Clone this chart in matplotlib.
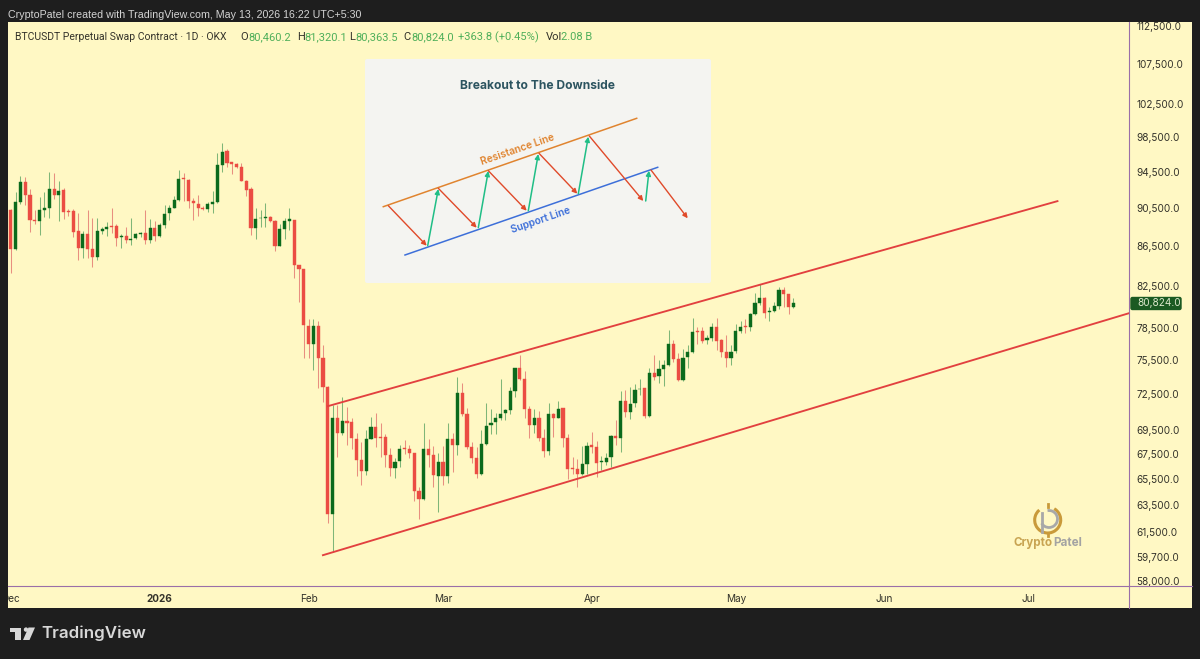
import matplotlib
matplotlib.use("Agg")
import matplotlib.pyplot as plt
import matplotlib.dates as mdates
from matplotlib.patches import Rectangle, FancyBboxPatch, Polygon, Circle, Arc
from matplotlib.ticker import FixedLocator, FixedFormatter, NullLocator
import numpy as np
import pandas as pd

opens = [90330,86220,91160,93360,91990,89290,89187,90291,90580,92582,91957,92508,90255,90183,88056,86357,87813,86187,85369,88090,
 88336,88655,88584,87432,87570,87154,87327,87813,87883,87154,88407,87570,88761,89966,90580,91447,93803,93653,91339,91014,
 90580,90436,90977,91195,95345,96877,95610,95457,95119,93541,92582,88372,89435,89506,89541,89116,86563,88301,89187,89258,
 84590,84190,78686,76953,78686,75739,73106,62853,70454,69258,70257,70117,68765,67034,66189,68765,69753,68903,68875,67438,
 66427,66955,68003,67896,67573,64601,63980,67949,67438,65793,66902,65741,68765,68272,72583,70818,68084,67195,65899,68326,
 69891,70174,70454,70930,71126,72757,74814,73836,71211,69864,70454,68848,67788,70818,70454,71296,68787,66369,66289,65923,
 66715,68217,68082,66900,66900,67246,69006,68787,71888,71013,71719,72928,73015,70646,74393,74098,74746,75106,76982,75616,
 73747,75766,76248,78153,78215,77380,77533,78590,77319,76248,75736,76310,78153,78652,78527,79786,80805,81321,80010,80106,
 80582,82135,81706,80460.2]
highs = [90400,92250,94104,93990,92582,90328,91700,92250,94517,94442,93541,92692,90472,90400,89966,88056,90328,89470,89470,88478,
 89010,90508,88832,87779,88549,89470,87917,87987,90328,89329,89187,88903,90905,90905,91846,94743,94442,93700,91592,91920,
 90760,91230,92434,96724,97804,97100,95687,95572,95495,93580,92803,90508,90328,91122,89683,89258,88832,89435,90544,89300,
 84620,84220,79317,79317,79159,76892,73224,71583,71583,72240,71383,70454,69203,68517,69478,70538,70930,70089,69148,67976,
 67169,68245,68655,68245,67600,64938,70089,68710,68164,67573,68164,70033,69203,73982,73458,71354,68517,68110,69478,71726,
 71268,70874,73807,71211,73165,74850,75951,74575,71497,71268,71098,69533,71726,70874,71955,71320,69144,67300,67087,68163,
 68516,69283,68597,67353,67620,69061,70307,72813,72871,73159,73394,73807,73040,74837,75976,75527,75527,78278,77349,76126,
 76493,76890,79437,78590,78527,77811,78902,79437,77441,77811,76890,78839,79152,79277,79915,81778,82692,81450,80423,80967,
 82362,82362,81720,81320.1]
lows = [83820,86140,90977,90870,87952,88797,87675,89541,89435,91519,89187,89329,89683,87501,85097,85267,85267,84423,85097,87779,
 87570,87848,86494,86357,86879,86598,87224,87501,86737,86806,87085,87432,88372,89258,90508,91339,91339,90580,89258,89683,
 90328,90147,90039,91122,94555,95119,94254,95006,93500,91846,87675,87224,88478,88549,89081,86051,86528,87258,88195,83320,
 80907,75678,75678,74635,73020,71869,62208,60092,67303,69066,68245,67896,65767,65067,65846,68710,68057,67249,66506,65767,
 65636,66453,67519,67169,63862,62455,63913,66506,64886,62978,65041,65197,66110,67438,70650,67896,66770,65585,65846,68245,
 69148,69148,70314,70314,70790,72240,73749,70454,68793,69203,68572,67303,67438,68930,70454,68109,65532,65923,64932,65845,
 65923,67566,65662,66236,66635,66502,68245,67701,70589,70392,71437,72439,70448,70589,73747,73452,73247,74988,75376,73659,
 73659,74777,76126,76982,77104,76982,77288,76431,75826,74868,75076,76187,78028,78028,78215,79691,80646,79371,79152,80010,
 80233,80423,79786,80363.5]
closes = [86220,91230,93357,91957,89258,89152,90291,90544,92582,91920,92434,90147,90147,88022,86357,87813,86187,85369,88056,88301,
 88549,88549,87397,87536,87120,87258,87813,87883,87154,88407,87570,88761,89931,90580,91447,93766,93690,91303,91050,90544,
 90400,90941,91195,95345,96838,95495,95457,95081,93541,92508,88372,89329,89506,89576,89152,86563,88266,89152,89329,84590,
 84190,78717,76953,78654,75739,73106,62853,70454,69258,70257,70089,68793,67034,66189,68765,69753,68793,68848,67438,66427,
 66902,67949,67949,67573,64601,63980,67922,67411,65820,66902,65741,68765,68245,72583,70790,68057,67195,65899,68326,69836,
 70089,70454,70846,71126,72757,74814,73836,71211,69864,70454,68793,67788,70818,70482,71268,68787,66316,66289,65923,66715,
 68190,68109,66821,66980,67220,69006,68787,71888,71013,71691,72871,72986,70646,74393,74040,74688,75046,76982,75586,73747,
 75736,76248,78091,78060,77288,77533,78559,77288,76248,75676,76279,78153,78590,78527,79754,80805,81289,79915,80106,80582,
 82103,81706,80423,80824.0]

first_date = "2025-12-01"
price_ticks = [112500,107500,102500,98500,94500,90500,86500,82500,78500,75500,72500,69500,67500,65500,63500,61500,59700,58000]
month_ticks = ["2025-12-01","2026-01-01","2026-02-01","2026-03-01","2026-04-01","2026-05-01","2026-06-01","2026-07-01"]
month_labels = ["Dec","2026","Feb","Mar","Apr","May","Jun","Jul"]
upper_channel_dates = ["2026-02-05","2026-07-07"]
upper_channel_prices = [71480,91290]
lower_channel_dates = ["2026-02-04","2026-07-22"]
lower_channel_prices = [59840,79880]
last_price = 80824.0

BG = "#1E1E1E"; CREAM = "#FFF8C4"; PURPLE = "#9A6FA8"
UP = "#0B6A1C"; DOWN = "#EB4D43"; TXT = "#33322A"
plt.rcParams["font.family"] = ["Inter", "DejaVu Sans"]
W, H = 1200, 659
fig = plt.figure(figsize=(12, 6.59), dpi=100, facecolor=BG)

def axrect(x0, y0, x1, y1):
    return [x0/W, 1-y1/H, (x1-x0)/W, (y1-y0)/H]

panel = fig.add_axes(axrect(8, 22, 1192, 608), facecolor=CREAM, zorder=0)
panel.set_xticks([]); panel.set_yticks([])
for s in panel.spines.values():
    s.set_visible(False)

ax = fig.add_axes(axrect(8, 22, 1129, 586), zorder=1)
ax.patch.set_alpha(0)
ax.set_yscale("log")
dates = mdates.date2num(pd.date_range(first_date, periods=len(opens)).to_pydatetime())
o, h, l, c = map(np.array, (opens, highs, lows, closes))
up = c >= o
wick_cols = np.where(up, "#7FB678", "#E88F80")
ax.vlines(dates, l, h, colors=wick_cols, lw=0.75, zorder=2)
bot = np.minimum(o, c); top = np.maximum(o, c)
ax.bar(dates, top-bot, bottom=bot, width=0.66, color=np.where(up, UP, DOWN),
       edgecolor=np.where(up, UP, DOWN), linewidth=0.3, zorder=3)

def d(v):
    return mdates.date2num(pd.to_datetime(v).to_pydatetime())
ax.plot([d(v) for v in upper_channel_dates], upper_channel_prices, color="#E2403F", lw=1.35, zorder=4)
ax.plot([d(v) for v in lower_channel_dates], lower_channel_prices, color="#E2403F", lw=1.35, zorder=4)

ax.set_xlim(d(first_date)-0.6, d(first_date)+232.9)
ax.set_ylim(57680, 113040)
ax.yaxis.tick_right()
ax.yaxis.set_major_locator(FixedLocator(price_ticks))
ax.yaxis.set_major_formatter(FixedFormatter([f"{v:,.1f}" for v in price_ticks]))
ax.yaxis.set_minor_locator(NullLocator())
ax.set_xticks([d(v) for v in month_ticks])
ax.set_xticklabels(month_labels)
ax.tick_params(axis="both", length=0, labelsize=7.2, labelcolor=TXT)
ax.tick_params(axis="y", pad=5.5)
ax.tick_params(axis="x", pad=5.5)
for s in ("top", "left"):
    ax.spines[s].set_visible(False)
for s in ("right", "bottom"):
    ax.spines[s].set_color(PURPLE); ax.spines[s].set_linewidth(0.8)
for lab in ax.get_xticklabels() + ax.get_yticklabels():
    lab.set_clip_box(panel.bbox); lab.set_clip_on(True)
for lab in ax.get_xticklabels():
    if lab.get_text() == "2026":
        lab.set_fontweight("bold")

ov = fig.add_axes([0, 0, 1, 1], zorder=5)
ov.set_xlim(0, W); ov.set_ylim(H, 0); ov.axis("off"); ov.patch.set_alpha(0)
ov.plot([1129, 1192], [586, 586], color=PURPLE, lw=0.8)
ov.plot([1129, 1129], [586, 608], color=PURPLE, lw=0.8)

# price label
ov.add_patch(FancyBboxPatch((1131, 297.5), 50, 12, boxstyle="round,pad=0,rounding_size=1.5", fc="#1B5A22", ec="#1B5A22", lw=1))
ov.text(1137, 303.5, f"{last_price:,.1f}", color="#DDE8CC", fontsize=7.2, va="center", ha="left")

# top caption and header
ov.text(8, 15, "CryptoPatel created with TradingView.com, May 13, 2026 16:22 UTC+5:30", color="#D4D4D4",
        fontsize=7.65, family="Liberation Sans", va="center")
GRN = "#4FAF5A"
ov.text(15, 37, "BTCUSDT Perpetual Swap Contract · 1D · OKX", color=TXT, fontsize=7.45, family="Roboto", va="center")
for x, s, col in [(240, "O", TXT), (248, "80,460.2", GRN),
                  (297, "H", TXT), (304, "81,320.1", GRN), (349, "L", TXT), (355, "80,363.5", GRN),
                  (403, "C", TXT), (411, "80,824.0", GRN), (458, "+363.8 (+0.45%)", GRN), (546, "Vol", TXT), (561, "2.08 B", GRN)]:
    ov.text(x, 37, s, color=col, fontsize=8, family="Roboto", va="center")

# inset
ov.add_patch(FancyBboxPatch((365, 59), 346, 224, boxstyle="round,pad=0,rounding_size=2", fc="#F4F4F1", ec="none"))
ov.text(538, 86, "Breakout to The Downside", color="#2C5460", fontsize=8.65, fontweight="bold", ha="center", va="center")
ov.plot([383.3, 636.7], [206.7, 118.3], color="#E0842F", lw=1.1)
ov.plot([405, 657.7], [255, 167.3], color="#3D6FD9", lw=1.1)
reds = [((388.3,205.7),(426.7,245.7)),((438.3,188.3),(476.7,227.7)),((488.3,170.7),(526.7,210.7)),
        ((539,153.3),(577.3,193.7)),((589.3,136),(643.3,201)),((651,170),(687.7,218.3))]
grns = [((427.7,245.7),(438.3,189)),((478.3,227.7),(488.3,171)),((528.3,210.7),(538.3,154)),
        ((578.3,193.7),(588.3,136.7)),((645.7,201),(649,170.7))]
for (a, b) in reds:
    ov.annotate("", xy=b, xytext=a, arrowprops=dict(arrowstyle="-|>", color="#E04A2A", lw=1.0, mutation_scale=7, shrinkA=0, shrinkB=0))
for (a, b) in grns:
    ov.annotate("", xy=b, xytext=a, arrowprops=dict(arrowstyle="-|>", color="#1FBE86", lw=1.1, mutation_scale=7, shrinkA=0, shrinkB=0))
ov.text(518, 150, "Resistance Line", color="#E0842F", fontsize=7.3, fontweight="semibold", rotation=19, ha="center", va="center", rotation_mode="anchor")
ov.text(541, 220, "Support Line", color="#3D6FD9", fontsize=7.3, fontweight="semibold", rotation=19, ha="center", va="center", rotation_mode="anchor")

# CryptoPatel watermark
ov.add_patch(Arc((1047.7, 520), 26, 26, angle=0, theta1=-60, theta2=230, color="#C99A3A", lw=2.2))
ov.add_patch(Arc((1049, 519), 17, 17, angle=0, theta1=-100, theta2=150, color="#A8A8A8", lw=2))
ov.plot([1041.5, 1041.5], [513, 532], color="#A8A8A8", lw=2)
ov.plot([1047.7, 1047.7], [504, 507], color="#C99A3A", lw=2)
ov.plot([1047.7, 1047.7], [533, 536], color="#C99A3A", lw=2)
ov.text(1014, 543, "Crypto", color="#C8A452", fontsize=8.4, fontweight="bold", va="center")
ov.text(1053, 543, "Patel", color="#A3A3A3", fontsize=8.4, fontweight="bold", va="center")

# TradingView logo
TV = "#D8D8D8"
ov.add_patch(Polygon([(10,627.5),(21,627.5),(21,640),(15,640),(15,631.5),(10,631.5)], fc=TV, ec="none"))
ov.add_patch(Circle((26, 629.6), 2.2, fc=TV, ec="none"))
ov.add_patch(Polygon([(28.5,627.5),(35,627.5),(29.5,640),(23,640)], fc=TV, ec="none"))
ov.text(41.5, 633.5, "TradingView", color=TV, fontsize=12.2, fontweight="semibold", va="center")

fig.savefig("out.png", dpi=100, facecolor=BG)
